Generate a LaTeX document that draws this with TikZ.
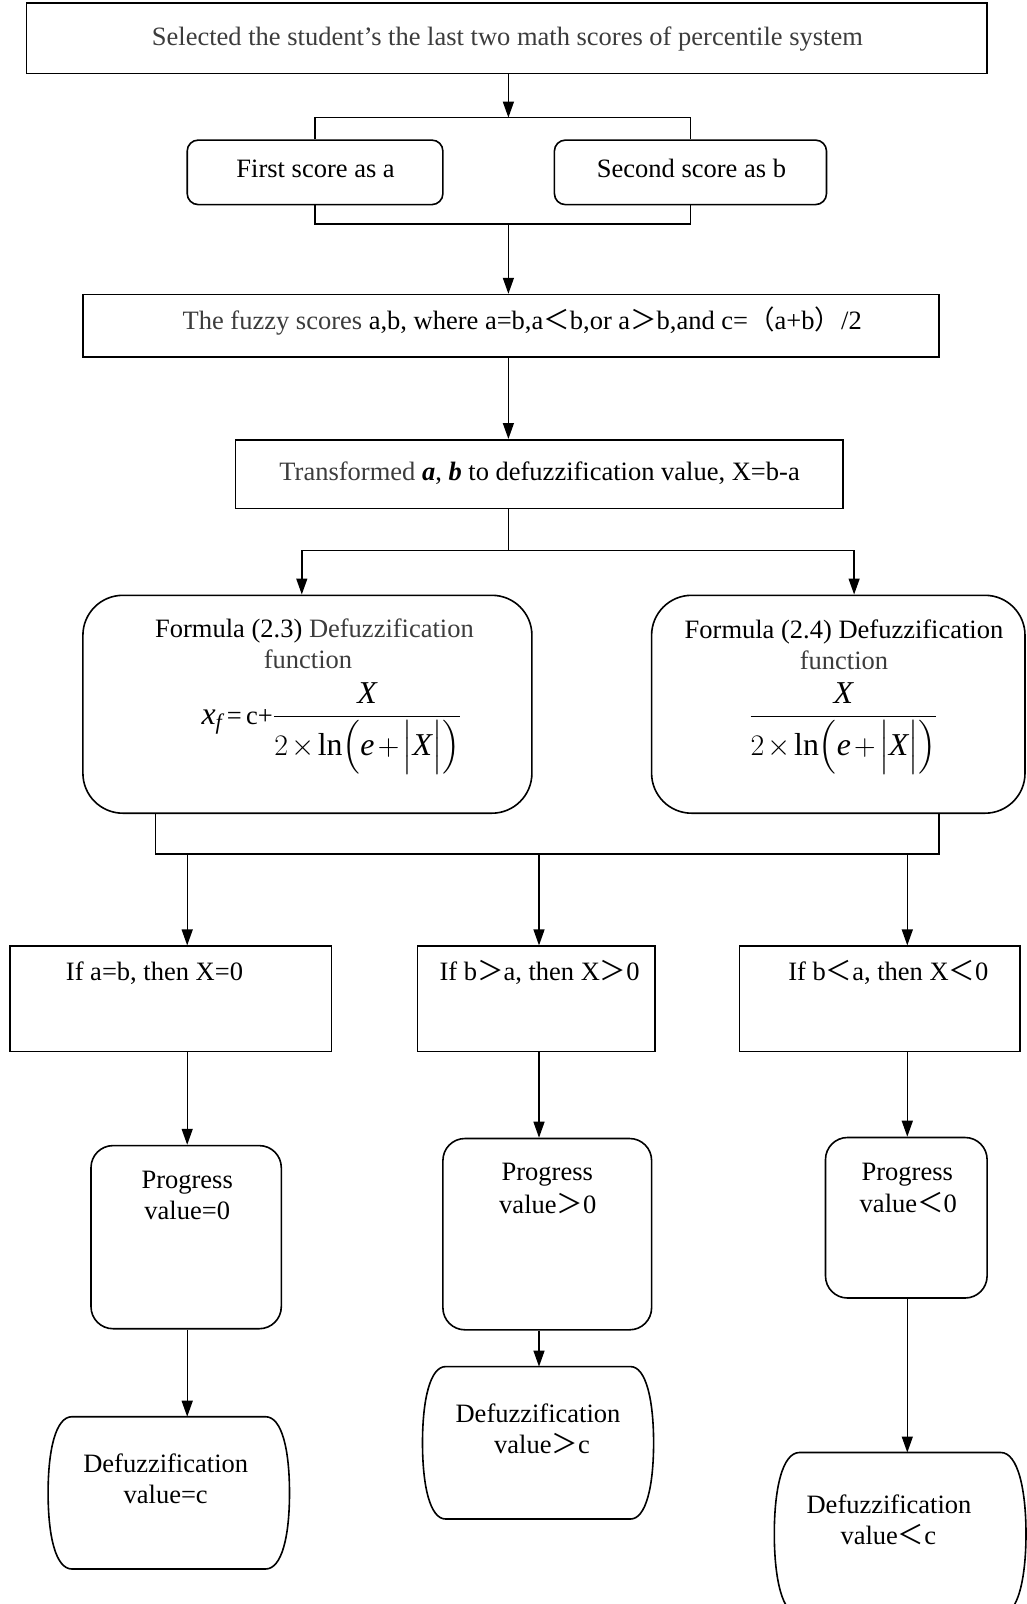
\documentclass[tikz,border=0pt]{standalone}
\usepackage{amsmath}
\usepackage{graphicx}
\usepackage{fontspec}
\setmainfont{Liberation Serif}
\newfontfamily\cjk{Noto Sans CJK SC}
\usetikzlibrary{arrows.meta}
\definecolor{dg}{HTML}{3C3C3C}
\newcommand\fs{\fontsize{26.5}{31}\selectfont}
\newcommand\fw[1]{{\cjk #1}}
\newcommand\defz{\scalebox{1.2}{$\dfrac{\textit{X}}{2\mkern2mu{\times}\mkern2mu\mathrm{ln}\Bigl(\textit{e}\mkern2mu{+}\mkern2mu\Bigl|\textit{X}\Bigr|\Bigr)}$}}
\tikzset{
 ln/.style={line width=1.4pt},
 arr/.style={ln, -{Triangle[length=16pt,width=11pt]}},
 box/.style={draw, line width=1.6pt, inner sep=0pt, rectangle},
 rbox/.style={box, rounded corners=11pt},
 fbox/.style={box, rounded corners=40pt},
 pbox/.style={box, rounded corners=22pt},
 txt/.style={inner sep=0pt, anchor=base, font=\fs},
 term/.style={line width=1.6pt},
}
\begin{document}
\begin{tikzpicture}[x=1pt,y=-1pt]
\useasboundingbox (0,0) rectangle (1027,1604);
\clip (0,0) rectangle (1027,1604);
% boxes
\node[box, minimum width=960.5pt, minimum height=70.5pt] (top) at (506.9,38.35) {};
\node[rbox, minimum width=255.7pt, minimum height=64.5pt] (first) at (315.05,172.35) {};
\node[rbox, minimum width=272.1pt, minimum height=64.5pt] (second) at (690.45,172.35) {};
\node[box, minimum width=856.1pt, minimum height=62.4pt] (fuzzy) at (510.95,325.8) {};
\node[box, minimum width=607.6pt, minimum height=68.6pt] (transf) at (539.1,474.1) {};
\node[fbox, minimum width=449pt, minimum height=217.9pt] (f23) at (307.4,704.25) {};
\node[fbox, minimum width=373.4pt, minimum height=217.9pt] (f24) at (838.3,704.25) {};
\node[box, minimum width=321.2pt, minimum height=105.3pt] (c1) at (170.8,998.85) {};
\node[box, minimum width=237.4pt, minimum height=105.3pt] (c2) at (536,998.85) {};
\node[box, minimum width=280.2pt, minimum height=105.3pt] (c3) at (879.7,998.85) {};
\node[pbox, minimum width=190.3pt, minimum height=183.1pt] (p1) at (186.15,1237.15) {};
\node[pbox, minimum width=208.7pt, minimum height=191.3pt] (p2) at (547.25,1234.15) {};
\node[pbox, minimum width=161.6pt, minimum height=160.5pt] (p3) at (906.3,1217.75) {};
% terminators (flat top/bottom, bulging sides)
\draw[term] (72,1416.7) -- (265.5,1416.7)
  .. controls (282,1416.7) and (289.5,1450) .. (289.5,1492.85)
  .. controls (289.5,1536) and (282,1569) .. (265.5,1569)
  -- (72,1569)
  .. controls (55.6,1569) and (48.1,1536) .. (48.1,1492.85)
  .. controls (48.1,1450) and (55.6,1416.7) .. (72,1416.7) -- cycle;
\coordinate (t1) at (168.8,1416.7);
\draw[term] (445.6,1366.6) -- (630.5,1366.6)
  .. controls (646,1366.6) and (653.6,1400) .. (653.6,1442.8)
  .. controls (653.6,1486) and (646,1519) .. (630.5,1519)
  -- (445.6,1519)
  .. controls (430,1519) and (422.5,1486) .. (422.5,1442.8)
  .. controls (422.5,1400) and (430,1366.6) .. (445.6,1366.6) -- cycle;
\coordinate (t2) at (538,1366.6);
\draw[term] (799.5,1452.5) -- (1000.8,1452.5)
  .. controls (1018,1452.5) and (1026,1490) .. (1026,1533.8)
  .. controls (1026,1578) and (1018,1615) .. (1000.8,1615)
  -- (799.5,1615)
  .. controls (782,1615) and (774.3,1578) .. (774.3,1533.8)
  .. controls (774.3,1490) and (782,1452.5) .. (799.5,1452.5) -- cycle;
\coordinate (t3) at (900,1452.5);
% texts
\node[txt, text=dg] (ttop) at (507.4,45.8) {Selected the student’s the last two math scores of percentile system};
\node[txt] (tfirst) at (315.6,177.8) {First score as a};
\node[txt] (tsecond) at (691.5,177.8) {Second score as b};
\node[txt] (tfuzzy) at (522.2,329.2) {\textcolor{dg}{The fuzzy scores} a,b, where a=b,a\fw{＜}b,or a\fw{＞}b,and c=\fw{（}a+b\fw{）}/2};
\node[txt] (ttransf) at (539.6,480.6) {\textcolor{dg}{Transformed} \textit{\textbf{a}}, \textit{\textbf{b}} to defuzzification value, X=b-a};
\node[txt] (tf23a) at (314.5,637) {Formula (2.3) \textcolor{dg}{Defuzzification}};
\node[txt, text=dg] (tf23b) at (308,668.8) {function};
\node[txt] (tf23c) at (331.4,724) {\scalebox{1.2}{$\textit{x}_{\textit{f}}$}\,=\,c+\defz};
\node[txt] (tf24a) at (844,638) {Formula (2.4) Defuzzification};
\node[txt, text=dg] (tf24b) at (844,669.8) {function};
\node[txt] (tf24c) at (843.4,724) {\defz};
\node[txt] (tc1) at (154.5,980.8) {If a=b, then X=0};
\node[txt] (tc2) at (539.6,980.8) {If b\fw{＞}a, then X\fw{＞}0};
\node[txt] (tc3) at (888.4,980.8) {If b\fw{＜}a, then X\fw{＜}0};
\node[txt] (tp1a) at (187.2,1188.4) {Progress};
\node[txt] (tp1b) at (187.2,1219) {value=0};
\node[txt] (tp2a) at (547.3,1180.2) {Progress};
\node[txt] (tp2b) at (547.8,1213) {value\fw{＞}0};
\node[txt] (tp3a) at (907.3,1180.2) {Progress};
\node[txt] (tp3b) at (908.3,1212) {value\fw{＜}0};
\node[txt] (tt1a) at (165.7,1472.8) {Defuzzification};
\node[txt] (tt1b) at (165.7,1503.5) {value=c};
\node[txt] (tt2a) at (538,1422.6) {Defuzzification};
\node[txt] (tt2b) at (542,1453.3) {value\fw{＞}c};
\node[txt] (tt3a) at (889,1513.7) {Defuzzification};
\node[txt] (tt3b) at (888.4,1544.4) {value\fw{＜}c};
% junction coordinates
\coordinate (j1) at (508.4,117.6);
\coordinate (j2) at (508.4,224);
\coordinate (j3) at (508.4,550.3);
\coordinate (s1) at (301.8,550.3);
\coordinate (s2) at (854.1,550.3);
\coordinate (m1) at (155.5,854.1);
\coordinate (m2) at (939,854.1);
\coordinate (a1) at (187.2,854.1);
\coordinate (a2) at (539,854.1);
\coordinate (a3) at (907.3,854.1);
% connectors
\draw[arr] (top.south -| j1) -- (j1);
\draw[ln] (first.north) -- (first.north |- j1) -- (second.north |- j1) -- (second.north);
\draw[ln] (first.south) -- (first.south |- j2) -- (second.south |- j2) -- (second.south);
\draw[arr] (j2) -- (fuzzy.north -| j2);
\draw[arr] (fuzzy.south -| j2) -- (transf.north -| j2);
\draw[ln] (transf.south -| j3) -- (j3);
\draw[arr] (j3) -- (s1) -- (f23.north -| s1);
\draw[arr] (j3) -- (s2) -- (f24.north -| s2);
\draw[ln] (f23.south -| m1) -- (m1) -- (m2) -- (f24.south -| m2);
\draw[arr] (a1) -- (c1.north -| a1);
\draw[arr] (a2) -- (c2.north -| a2);
\draw[arr] (a3) -- (c3.north -| a3);
\draw[arr] (c1.south -| a1) -- (p1.north -| a1);
\draw[arr] (c2.south -| a2) -- (p2.north -| a2);
\draw[arr] (c3.south -| a3) -- (p3.north -| a3);
\draw[arr] (p1.south -| a1) -- (t1 -| a1);
\draw[arr] (p2.south -| a2) -- (t2 -| a2);
\draw[arr] (p3.south -| a3) -- (t3 -| a3);
\end{tikzpicture}
\end{document}
